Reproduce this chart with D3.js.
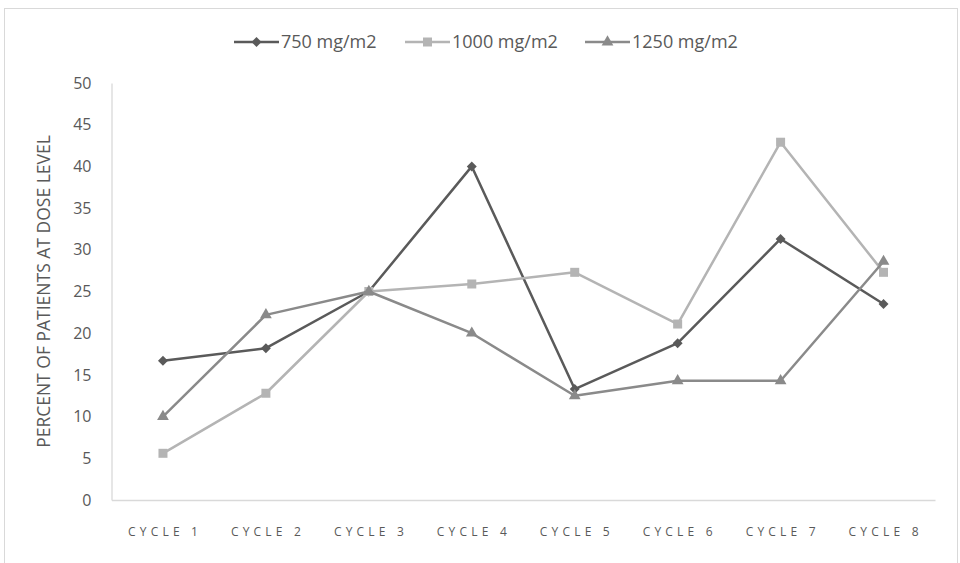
<!DOCTYPE html>
<html>
<head>
<meta charset="utf-8">
<script src="https://cdn.jsdelivr.net/npm/d3@7"></script>
<style>
  html, body { margin: 0; padding: 0; background: #fff; }
  svg { display: block; }
  text { font-family: "Open Sans", "Liberation Sans", sans-serif; fill: #595959; }
</style>
</head>
<body>
<svg id="chart" width="960" height="563"></svg>
<script>
const categories = ["CYCLE 1", "CYCLE 2", "CYCLE 3", "CYCLE 4", "CYCLE 5", "CYCLE 6", "CYCLE 7", "CYCLE 8"];
const seriesNames = ["750 mg/m2", "1000 mg/m2", "1250 mg/m2"];
const values750 = [16.7, 18.2, 25, 40, 13.3, 18.8, 31.3, 23.5];
const values1000 = [5.6, 12.8, 25, 25.9, 27.3, 21.1, 42.9, 27.3];
const values1250 = [10, 22.2, 25, 20, 12.5, 14.3, 14.3, 28.6];
const yTicks = [0, 5, 10, 15, 20, 25, 30, 35, 40, 45, 50];

const series = [
  { name: seriesNames[0], values: values750, color: "#5a5a5a", symbol: d3.symbolSquare, size: 50, rotate: 45 },
  { name: seriesNames[1], values: values1000, color: "#b4b4b4", symbol: d3.symbolSquare, size: 81, rotate: 0 },
  { name: seriesNames[2], values: values1250, color: "#8a8a8a", symbol: d3.symbolTriangle, size: 60, rotate: 0 }
];

const svg = d3.select("#chart");
const pLeft = 111.5, pRight = 935, pTop = 83, pBottom = 500;

// chart border
svg.append("rect").attr("x", 4.5).attr("y", 8.5).attr("width", 953).attr("height", 560)
  .attr("fill", "none").attr("stroke", "#d9d9d9").attr("stroke-width", 1);

const x = d3.scaleBand().domain(categories).range([pLeft, pRight]);
const y = d3.scaleLinear().domain([0, 50]).range([pBottom, pTop]);

// y axis
const yAxis = svg.append("g").attr("transform", `translate(${pLeft},0)`)
  .call(d3.axisLeft(y).tickValues(yTicks).tickSize(0).tickPadding(20));
yAxis.select(".domain").attr("stroke", "#d9d9d9").attr("stroke-width", 1.3);
yAxis.selectAll("text").style("font-size", "16px").attr("fill", "#595959")
  .style("font-family", "'Open Sans', sans-serif");

// x axis
const xLetterSpacing = 4.2;
const xAxis = svg.append("g").attr("transform", `translate(0,${pBottom})`)
  .call(d3.axisBottom(x).tickSize(0).tickPadding(27));
xAxis.select(".domain").attr("stroke", "#d9d9d9").attr("stroke-width", 1.3);
xAxis.selectAll("text").style("font-size", "12px").style("letter-spacing", xLetterSpacing + "px")
  .attr("dx", xLetterSpacing / 2).attr("fill", "#595959")
  .style("font-family", "'Open Sans', sans-serif");

// y axis title
svg.append("text")
  .attr("transform", `translate(50,${(pTop + pBottom) / 2}) rotate(-90)`)
  .attr("text-anchor", "middle")
  .style("font-size", "17.5px")
  .text("PERCENT OF PATIENTS AT DOSE LEVEL");

const line = d3.line()
  .x((d, i) => x(categories[i]) + x.bandwidth() / 2)
  .y(d => y(d));

series.forEach(s => {
  svg.append("path").datum(s.values).attr("d", line)
    .attr("fill", "none").attr("stroke", s.color).attr("stroke-width", 2.5)
    .attr("stroke-linejoin", "round");
  svg.append("g").selectAll("path").data(s.values).join("path")
    .attr("d", d3.symbol().type(s.symbol).size(s.size))
    .attr("transform", (d, i) => `translate(${x(categories[i]) + x.bandwidth() / 2},${y(d)}) rotate(${s.rotate})`)
    .attr("fill", s.color);
});

// legend
const legendX = [234, 405, 585];
const legendY = 42;
series.forEach((s, i) => {
  const g = svg.append("g").attr("transform", `translate(${legendX[i]},${legendY})`);
  g.append("line").attr("x1", 0).attr("x2", 45).attr("y1", 0).attr("y2", 0)
    .attr("stroke", s.color).attr("stroke-width", 2.5);
  g.append("path").attr("d", d3.symbol().type(s.symbol).size(s.size)())
    .attr("transform", `translate(22.5,0) rotate(${s.rotate})`).attr("fill", s.color);
  g.append("text").attr("x", 47).attr("y", 0).attr("dy", "0.35em")
    .style("font-size", "18px").text(s.name);
});
</script>
</body>
</html>
